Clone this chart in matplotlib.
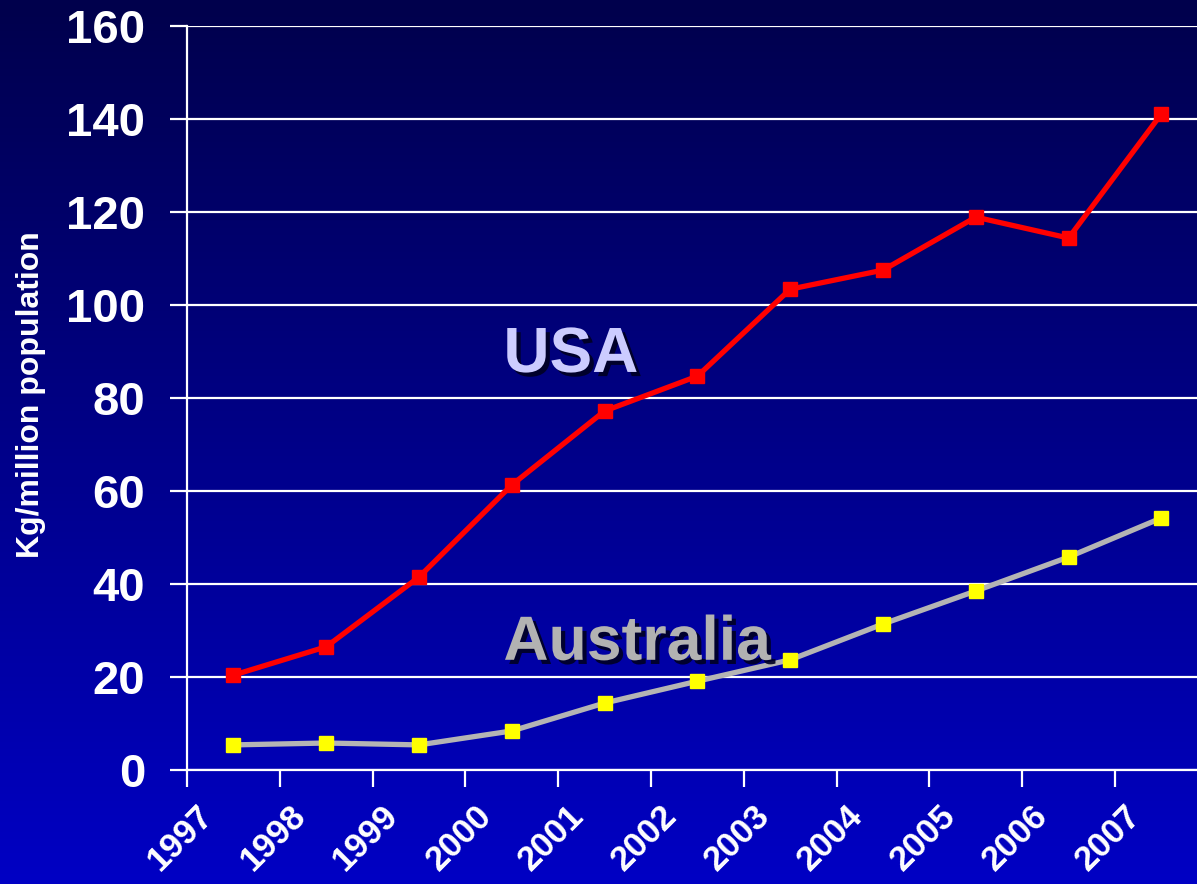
import matplotlib
matplotlib.use("Agg")
import matplotlib.pyplot as plt
import matplotlib.patheffects as pe
import matplotlib.transforms as mtransforms
import numpy as np

plt.rcParams['font.family'] = ['Liberation Sans', 'DejaVu Sans']
plt.rcParams['font.weight'] = 'bold'

years = ['1997', '1998', '1999', '2000', '2001', '2002',
         '2003', '2004', '2005', '2006', '2007']
usa = [20.4, 26.5, 41.5, 61.3, 77.2, 84.7, 103.4, 107.5, 118.9, 114.4, 141.1]
australia = [5.4, 5.8, 5.4, 8.4, 14.4, 19.1, 23.7, 31.4, 38.5, 45.8, 54.2]
y_ticks = [0, 20, 40, 60, 80, 100, 120, 140, 160]

W, H = 1197, 884
fig = plt.figure(figsize=(W / 100, H / 100), dpi=100)

# slide background: dark navy at the top fading to bright blue at the bottom
bg = fig.add_axes([0, 0, 1, 1], zorder=-10)
grad = np.linspace(0, 1, 256).reshape(-1, 1)
top = np.array([0x00, 0x00, 0x4c]) / 255
bot = np.array([0x00, 0x00, 0xc4]) / 255
img = top + (bot - top) * grad[..., None]
bg.imshow(img, aspect='auto', extent=[0, 1, 0, 1], origin='upper')
bg.set_axis_off()

x0, x1 = 187 / W, 1.0
y0, y1 = (H - 770) / H, (H - 26) / H
ax = fig.add_axes([x0, y0, x1 - x0, y1 - y0])
ax.set_facecolor('none')

x = np.arange(len(years))
step = 92.8
ax.set_xlim(-0.5, -0.5 + (W - 187) / step)
ax.set_ylim(0, 160)

ax.plot(x, usa, color='#ff0000', lw=3.8, marker='s', ms=10,
        mfc='#ff0000', mec='#ff0000', zorder=5, clip_on=False)
ax.plot(x, australia, color='#b4b4b4', lw=3.8, marker='s', ms=10,
        mfc='#ffff00', mec='#ffff00', zorder=5, clip_on=False)

ax.set_yticks(y_ticks)
ax.set_yticklabels([str(v) for v in y_ticks], fontsize=34, color='white',
                   fontweight='bold')
ax.grid(axis='y', color='white', lw=1.6)
ax.tick_params(axis='y', length=12, width=1.6, color='white', pad=18)

# tick marks on category boundaries, labels on category centres
ax.set_xticks(np.arange(-0.5, 10.0, 1.0), minor=True)
ax.set_xticks(x)
ax.tick_params(axis='x', which='minor', length=12, width=1.6, color='white')
ax.tick_params(axis='x', which='major', length=0, pad=21)
labels = ax.set_xticklabels(years, fontsize=25, color='white',
                            fontweight='bold', rotation=45, ha='right')
shift = mtransforms.ScaledTranslation(-0.14, 0, fig.dpi_scale_trans)
for lab in labels:
    lab.set_transform(lab.get_transform() + shift)

for side in ['top', 'right']:
    ax.spines[side].set_visible(False)
for side in ['left', 'bottom']:
    ax.spines[side].set_color('white')
    ax.spines[side].set_linewidth(1.6)

fig.text(31 / W, (H - 395) / H, 'Kg/million population', rotation=90,
         ha='center', va='center', fontsize=23, color='white',
         fontweight='bold')

shadow = [pe.SimplePatchShadow(offset=(3, -3), shadow_rgbFace='#000022',
                               alpha=0.9), pe.Normal()]
ax.text(2.91, 85.6, 'USA', fontsize=46, color='#ccccff', fontweight='bold',
        ha='left', va='baseline', path_effects=shadow, zorder=6)
ax.text(2.91, 23.7, 'Australia', fontsize=45, color='#b2b2b2',
        fontweight='bold', ha='left', va='baseline', path_effects=shadow,
        zorder=6)

fig.savefig('out.png', dpi=100)
